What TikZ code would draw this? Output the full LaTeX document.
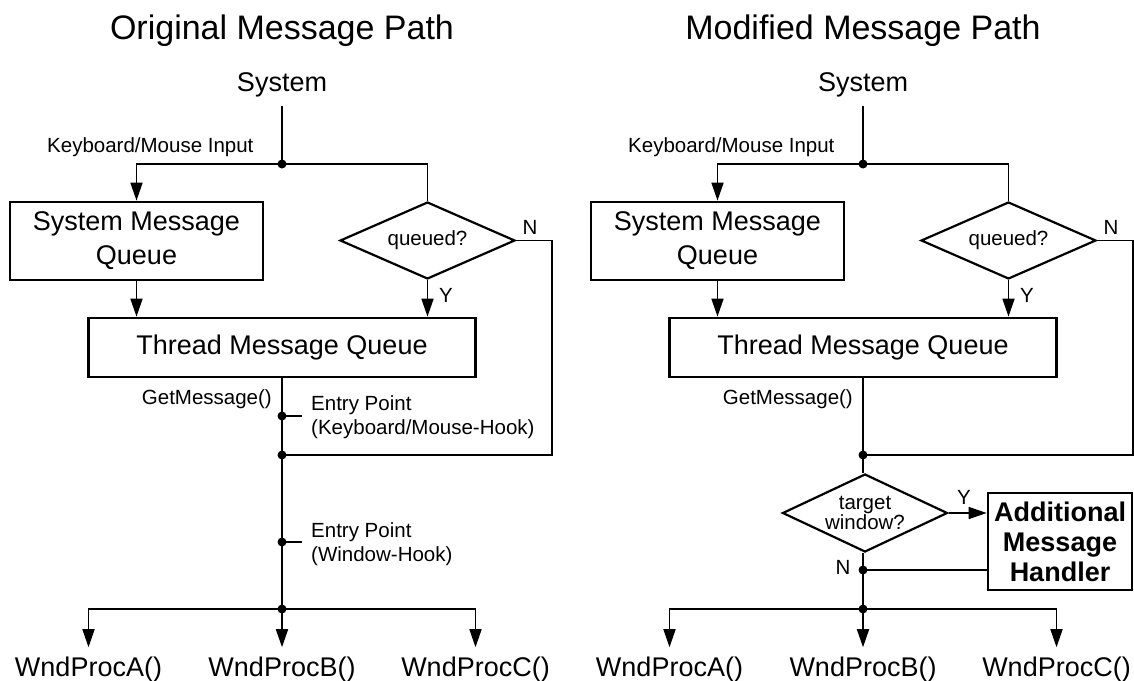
\documentclass[tikz,border=0pt]{standalone}
\usepackage{fontspec}
\setmainfont{Liberation Sans}
\usetikzlibrary{arrows.meta,shapes.geometric}
\newcommand\lblfont{\fontsize{20.5}{24}\selectfont}
\newcommand\bigfont{\fontsize{27}{34}\selectfont}
\newcommand\ttlfont{\fontsize{34}{40}\selectfont}
\begin{document}
\begin{tikzpicture}[x=1pt,y=-1pt,
  conn/.style={line width=1.6pt},
  arr/.style={conn,-{Triangle[width=12pt,length=18pt]}},
  boxst/.style={draw,line width=2.7pt,inner sep=0pt,align=center,font=\bigfont},
  dia/.style={draw,shape=diamond,line width=2.2pt,inner sep=0pt,align=center,font=\lblfont},
  lbl/.style={inner sep=0pt,font=\lblfont},
  bigst/.style={inner sep=0pt,font=\bigfont},
  titlest/.style={inner sep=0pt,font=\ttlfont},
  dot/.style={fill=black}]
\useasboundingbox (0,0) rectangle (1134,680);
\foreach \s/\dx/\t in {L/0/{Original Message Path},R/581/{Modified Message Path}}{
\begin{scope}[xshift=\dx pt]
  \node[titlest,anchor=base] (title\s) at (282,39) {\t};
  \node[bigst,anchor=base] (sys\s) at (282,91) {System};
  \coordinate (j\s) at (282,164);
  \node[lbl,anchor=base west] (kb\s) at (47,152) {Keyboard/Mouse Input};
  \node[boxst,minimum width=253pt,minimum height=78pt] (smq\s) at (136.5,241) {System Message\\Queue};
  \node[dia,aspect=2.27,minimum width=175pt,minimum height=77pt] (q\s) at (427.5,240.5) {queued?};
  \node[lbl] (qn\s) at (530,227) {N};
  \node[lbl] (qy\s) at (446,295) {Y};
  \node[boxst,minimum width=387pt,minimum height=59pt] (tmq\s) at (282,347.5) {Thread Message Queue};
  \node[lbl,anchor=base east] (gm\s) at (272,404) {GetMessage()};
  \coordinate (m\s) at (282,455);
  \coordinate (c\s) at (552,455);
  \coordinate (b\s) at (282,609);
  \node[bigst,anchor=base] (wA\s) at (88.5,676) {WndProcA()};
  \node[bigst,anchor=base] (wB\s) at (282,676) {WndProcB()};
  \node[bigst,anchor=base] (wC\s) at (475.5,676) {WndProcC()};
  \draw[conn,shorten <=9pt] (sys\s.south) -- (j\s);
  \draw[arr] (j\s) -| (smq\s.north);
  \draw[conn] (j\s) -| (q\s.north);
  \draw[arr] (smq\s.south) -- (smq\s.south |- tmq\s.north);
  \draw[arr] (q\s.south) -- (q\s.south |- tmq\s.north);
  \draw[conn] (q\s.east) -| (c\s) -- (m\s);
  \draw[conn] (tmq\s.south) -- (m\s);
  \draw[arr,shorten >=9pt] (b\s) -| (wA\s.north);
  \draw[arr,shorten >=9pt] (b\s) -- (wB\s.north);
  \draw[arr,shorten >=9pt] (b\s) -| (wC\s.north);
  \fill[dot] (j\s) circle[radius=4.5pt];
  \fill[dot] (m\s) circle[radius=4.5pt];
  \fill[dot] (b\s) circle[radius=4.5pt];
\end{scope}}
% left: entry points
\coordinate (e1L) at (282,416);
\coordinate (e2L) at (282,542);
\node[lbl,align=left,anchor=west] (ep1L) at (311,417.5) {Entry Point\\(Keyboard/Mouse-Hook)};
\node[lbl,align=left,anchor=west] (ep2L) at (311,544.5) {Entry Point\\(Window-Hook)};
\draw[conn] (mL) -- (bL);
\draw[conn,shorten >=9pt] (e1L) -- (e1L -| ep1L.west);
\draw[conn,shorten >=9pt] (e2L) -- (e2L -| ep2L.west);
\fill[dot] (e1L) circle[radius=4.5pt];
\fill[dot] (e2L) circle[radius=4.5pt];
% right: target window
\node[dia,aspect=2.115,minimum width=165pt,minimum height=78pt,font=\fontsize{20.5}{20}\selectfont] (tdR) at (865,513) {target\\window?};
\node[boxst,font=\bfseries\fontsize{27}{30}\selectfont,minimum width=144pt,minimum height=97pt] (amhR) at (1060,541.5) {Additional\\Message\\Handler};
\coordinate (n2R) at (863,570);
\node[lbl] (tyR) at (964,497) {Y};
\node[lbl] (tnR) at (843,567) {N};
\draw[conn] (mR) -- (mR |- tdR.north);
\draw[arr] (tdR.east) -- (tdR.east -| amhR.west);
\draw[conn] (bR |- tdR.south) -- (bR);
\draw[conn] (amhR.west |- n2R) -- (n2R);
\fill[dot] (n2R) circle[radius=4.5pt];
\end{tikzpicture}
\end{document}
